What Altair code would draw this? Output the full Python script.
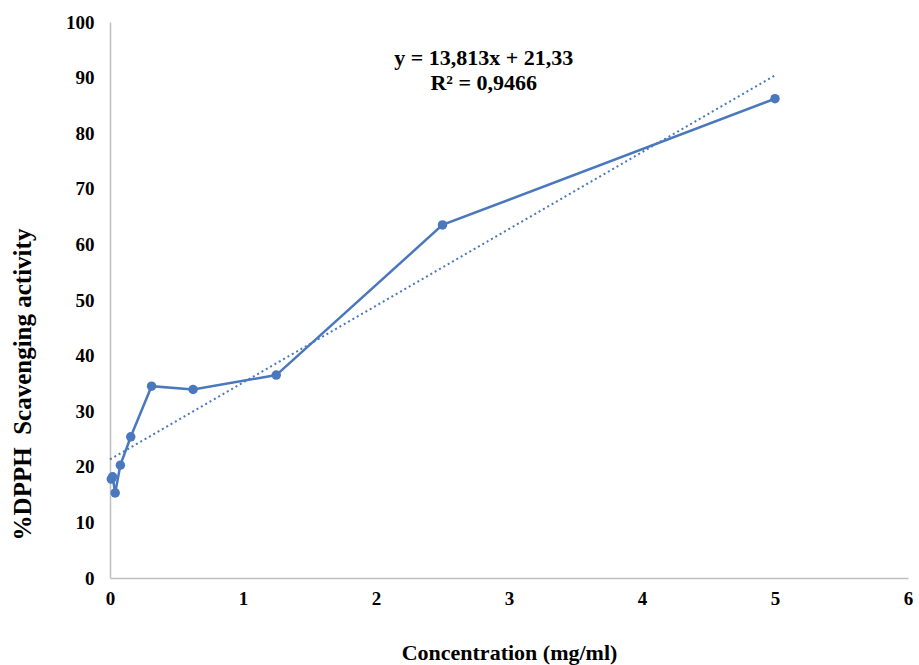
import altair as alt
import pandas as pd

conc = [0.0098, 0.0195, 0.039, 0.078, 0.156, 0.3125, 0.625, 1.25, 2.5, 5.0]
scav = [17.8, 18.2, 15.3, 20.3, 25.4, 34.5, 33.9, 36.5, 63.5, 86.2]

trend_x = [0.0, 5.0]
trend_y = [21.33, 90.4]

eq_text = ["y = 13,813x + 21,33", "R² = 0,9466"]
eq_x = [2.81, 2.81]
eq_y = [93.6, 89.1]

df = pd.DataFrame({"x": conc, "y": scav, "order": list(range(len(conc)))})
tdf = pd.DataFrame({"x": trend_x, "y": trend_y})
edf = pd.DataFrame({"t": eq_text, "x": eq_x, "y": eq_y})

FONT = "Liberation Serif"
COLOR = "#4A78BC"

xs = alt.Scale(domain=[0, 6], nice=False, zero=True)
ys = alt.Scale(domain=[0, 100], nice=False)

xax = alt.Axis(values=[0, 1, 2, 3, 4, 5, 6], format="d", grid=False, ticks=False,
               domainColor="#BFBFBF", domainWidth=1.5, labelFlush=False,
               labelFont=FONT, labelFontSize=19, labelFontWeight="bold", labelColor="#000000",
               labelPadding=11,
               title="Concentration (mg/ml)", titleFont=FONT, titleFontSize=22,
               titleFontWeight="bold", titleColor="#000000", titleY=74, titleBaseline="middle")
yax = alt.Axis(values=list(range(0, 101, 10)), grid=False, ticks=False,
               domainColor="#BFBFBF", domainWidth=1.5, labelFlush=False,
               labelFont=FONT, labelFontSize=19, labelFontWeight="bold", labelColor="#000000",
               labelPadding=16,
               title="%DPPH\u00a0 Scavenging activity", titleFont=FONT, titleFontSize=25,
               titleFontWeight="bold", titleColor="#000000", titleAngle=-90,
               titleX=-88, titleY=362, titleBaseline="middle", titleAlign="center")

trend = alt.Chart(tdf).mark_line(color=COLOR, strokeWidth=2, strokeDash=[2, 3]).encode(
    x=alt.X("x:Q", scale=xs, axis=xax),
    y=alt.Y("y:Q", scale=ys, axis=yax),
)
line = alt.Chart(df).mark_line(color=COLOR, strokeWidth=2.5).encode(
    x=alt.X("x:Q", scale=xs), y=alt.Y("y:Q", scale=ys), order="order:Q")
pts = alt.Chart(df).mark_circle(color=COLOR, size=90, opacity=1).encode(
    x=alt.X("x:Q", scale=xs), y=alt.Y("y:Q", scale=ys))
txt = alt.Chart(edf).mark_text(font=FONT, fontSize=22, fontWeight="bold", color="#000000").encode(
    x=alt.X("x:Q", scale=xs), y=alt.Y("y:Q", scale=ys), text="t:N")

chart = alt.layer(trend, line, pts, txt).properties(
    width=798, height=556,
    autosize=alt.AutoSizeParams(type="none"),
    padding={"left": 110, "top": 22, "right": 11, "bottom": 87},
    background="white",
).configure_view(stroke=None)

chart.save("out.html", embed_options={"renderer": "svg", "actions": False})
